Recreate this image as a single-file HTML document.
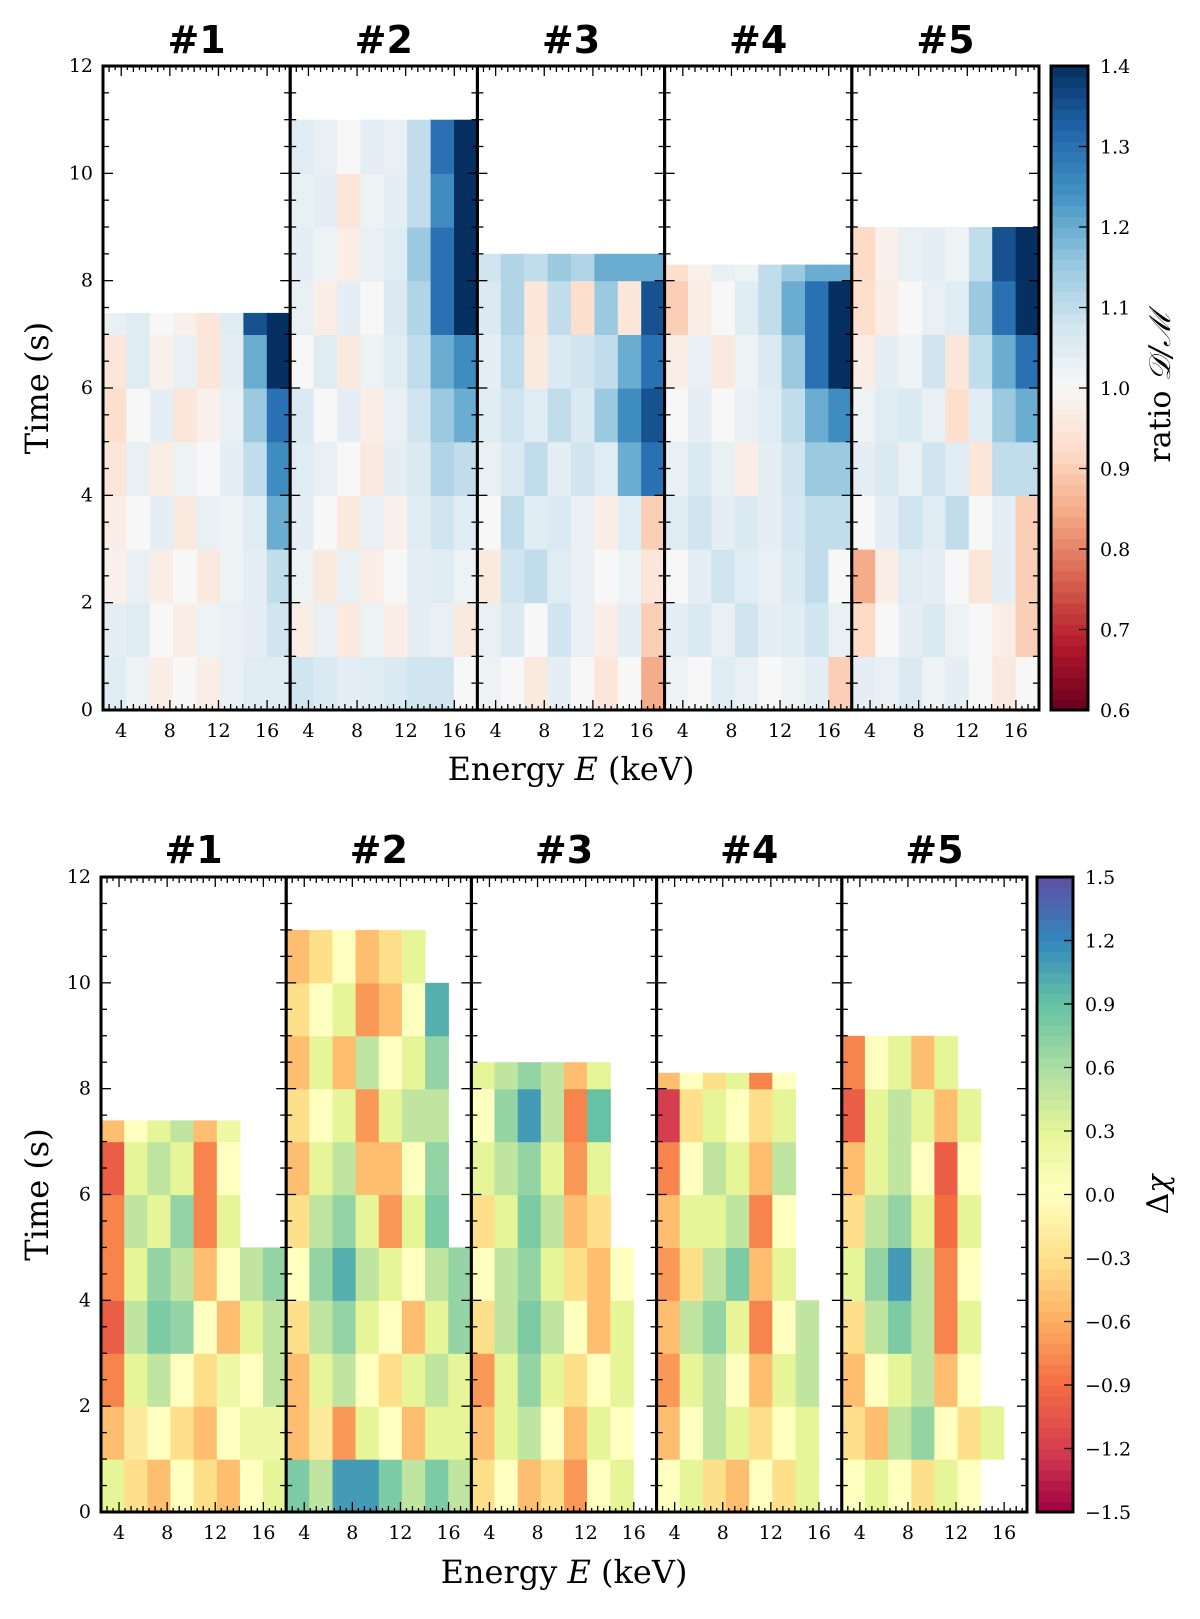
<!DOCTYPE html>
<html><head><meta charset="utf-8"><style>
html,body{margin:0;padding:0;background:#fff}
svg text{font-family:"DejaVu Serif","Liberation Serif",serif;fill:#000}
svg text.ttl{font-family:"DejaVu Sans","Liberation Sans",sans-serif;font-weight:bold}
</style></head><body>
<svg id="fig" width="1200" height="1614" viewBox="0 0 1200 1614" xmlns="http://www.w3.org/2000/svg"></svg>
<script>
// ---- data (rows from t=0 upward, 1 s per row; 8 energy bins spanning 2.5–17.9 keV) ----
const panelNames = ["#1","#2","#3","#4","#5"];
const tMax = [7.4, 11, 8.5, 8.3, 9];
const ratioTicks = [0.6,0.7,0.8,0.9,1.0,1.1,1.2,1.3,1.4];
const chiTicks = [-1.5,-1.2,-0.9,-0.6,-0.3,0.0,0.3,0.6,0.9,1.2,1.5];
const timeTicks = [0,2,4,6,8,10,12];
const energyTicks = [4,8,12,16];
const ratio1 = [
[1.05,1.02,0.97,1.0,0.97,1.03,1.05,1.05],
[1.04,1.05,1.0,0.97,1.02,1.03,1.04,1.08],
[0.98,1.03,0.97,1.0,0.96,1.02,1.04,1.1],
[0.97,1.0,1.04,0.96,1.03,1.02,1.05,1.2],
[0.95,1.03,0.97,1.02,1.0,1.04,1.1,1.25],
[0.93,1.0,1.04,0.95,0.98,1.03,1.15,1.3],
[0.95,1.05,0.98,1.03,0.95,1.04,1.2,1.4],
[1.03,1.05,1.0,0.98,0.95,1.05,1.35,1.4]];
const ratio2 = [
[1.08,1.06,1.04,1.05,1.06,1.08,1.08,1.0],
[0.97,1.03,0.96,1.02,0.97,1.04,1.03,0.96],
[1.02,0.96,1.03,0.97,1.0,1.04,1.05,1.02],
[1.04,1.0,0.96,1.03,0.98,1.05,1.08,1.05],
[1.05,1.03,1.0,0.96,1.04,1.06,1.12,1.1],
[1.06,1.0,1.04,0.97,1.03,1.08,1.15,1.2],
[1.0,1.05,0.96,1.02,1.05,1.1,1.2,1.25],
[1.03,0.97,1.04,1.0,1.06,1.12,1.3,1.4],
[1.04,1.02,0.97,1.03,1.05,1.15,1.3,1.4],
[1.03,1.04,0.95,1.02,1.04,1.1,1.25,1.4],
[1.05,1.03,1.0,1.04,1.03,1.1,1.3,1.4]];
const ratio3 = [
[1.02,1.0,0.96,1.04,1.0,0.95,1.0,0.85],
[1.03,1.06,1.0,1.08,1.03,0.97,1.04,0.9],
[0.96,1.08,1.1,1.05,1.03,1.0,1.02,0.95],
[1.0,1.1,1.05,1.06,1.03,0.97,1.05,0.9],
[1.03,1.06,1.1,1.04,1.08,1.05,1.2,1.3],
[1.05,1.08,1.05,1.1,1.06,1.15,1.25,1.35],
[1.04,1.1,0.96,1.06,1.08,1.1,1.2,1.3],
[1.06,1.12,0.95,1.1,0.93,1.15,0.95,1.35],
[1.08,1.12,1.1,1.15,1.12,1.2,1.2,1.2]];
const ratio4 = [
[1.02,1.0,1.05,1.03,1.0,1.02,1.04,0.9],
[1.04,1.06,1.03,1.08,1.04,1.05,1.08,1.03],
[1.0,1.04,1.08,1.05,1.03,1.06,1.1,1.0],
[1.05,1.08,1.04,1.06,1.04,1.07,1.1,1.1],
[1.03,1.06,1.03,0.97,1.04,1.08,1.15,1.15],
[1.0,1.04,1.0,1.03,1.05,1.1,1.2,1.25],
[0.97,1.03,0.96,1.02,1.06,1.15,1.3,1.4],
[0.9,0.97,1.0,1.05,1.1,1.2,1.3,1.4],
[0.93,0.98,1.03,1.02,1.1,1.15,1.2,1.2]];
const ratio5 = [
[1.04,1.03,1.06,1.02,1.04,1.0,0.96,1.0],
[0.92,1.0,1.04,1.06,1.02,1.0,0.97,0.9],
[0.85,0.97,1.05,1.04,1.0,0.95,1.04,0.9],
[1.0,1.04,1.08,1.05,1.1,1.0,1.04,0.9],
[1.04,1.06,1.03,1.08,1.05,0.95,1.1,1.1],
[1.02,1.05,1.06,1.03,0.93,1.05,1.15,1.2],
[0.97,1.04,1.02,1.08,0.95,1.1,1.2,1.3],
[0.93,0.97,1.0,1.03,1.05,1.15,1.3,1.4],
[0.92,0.98,1.03,1.04,1.02,1.1,1.35,1.4]];
const chi1 = [
[0.3,-0.3,-0.5,0.0,-0.3,-0.5,0.0,0.3],
[-0.5,-0.2,0.0,-0.3,-0.5,0.0,0.2,0.2],
[-0.8,0.3,0.5,0.0,-0.3,0.2,0.0,0.5],
[-1.0,0.5,0.8,0.7,0.0,-0.5,0.3,0.5],
[-0.8,0.3,0.7,0.5,-0.5,0.0,0.5,0.7],
[-0.8,0.5,0.3,0.7,-0.8,0.3,null,null],
[-1.0,0.3,0.5,0.3,-0.8,0.0,null,null],
[-0.5,0.0,0.3,0.5,-0.5,0.2,null,null]];
const chi2 = [
[0.8,0.5,1.1,1.1,0.8,0.5,0.8,0.5],
[-0.5,-0.2,-0.7,0.3,0.0,-0.5,0.3,0.3],
[-0.5,0.3,0.5,0.0,-0.3,0.3,0.5,0.3],
[-0.3,0.5,0.7,0.3,0.0,-0.5,0.3,0.7],
[0.0,0.7,1.0,0.5,0.3,0.0,0.5,0.7],
[-0.3,0.5,0.7,0.3,-0.7,0.3,0.8,null],
[-0.5,0.3,0.5,-0.5,-0.5,0.0,0.7,null],
[-0.3,0.0,0.3,-0.7,0.3,0.5,0.5,null],
[-0.5,0.3,-0.5,0.5,0.0,0.3,0.7,null],
[-0.3,0.0,0.3,-0.7,-0.5,0.0,1.0,null],
[-0.5,-0.3,0.0,-0.5,-0.3,0.3,null,null]];
const chi3 = [
[-0.3,0.0,-0.5,-0.3,-0.7,0.0,0.3,null],
[-0.5,0.3,0.5,0.0,-0.5,0.3,0.0,null],
[-0.7,0.3,0.7,0.3,-0.3,0.0,0.3,null],
[-0.3,0.5,0.8,0.5,0.0,-0.5,0.3,null],
[0.0,0.5,0.7,0.3,-0.3,-0.5,0.0,null],
[-0.3,0.3,0.8,0.5,-0.5,-0.3,null,null],
[0.3,0.5,0.7,0.3,-0.7,0.3,null,null],
[0.0,0.7,1.1,0.5,-0.8,0.9,null,null],
[0.3,0.5,0.7,0.5,-0.5,0.3,null,null]];
const chi4 = [
[0.0,0.3,-0.3,-0.5,0.0,-0.3,0.3,null],
[-0.5,0.0,0.5,0.3,-0.3,0.0,0.3,null],
[-0.7,0.3,0.5,0.0,-0.5,0.3,0.5,null],
[-0.5,0.5,0.7,0.3,-0.8,0.0,0.5,null],
[-0.7,-0.3,0.5,0.8,-0.5,0.3,null,null],
[-0.5,0.3,0.3,0.5,-0.8,0.0,null,null],
[-0.8,0.0,0.5,0.3,-0.5,0.5,null,null],
[-1.2,-0.3,0.3,0.0,-0.3,0.3,null,null],
[-0.5,0.0,-0.3,0.3,-0.8,0.0,null,null]];
const chi5 = [
[0.0,0.3,0.0,-0.3,0.3,0.0,null,null],
[-0.3,-0.5,0.5,0.7,0.0,-0.3,0.3,null],
[-0.5,0.0,0.3,0.5,-0.5,0.0,null,null],
[-0.3,0.5,0.8,0.5,-0.8,0.3,null,null],
[0.3,0.7,1.1,0.5,-0.8,0.0,null,null],
[-0.3,0.5,0.7,0.3,-0.9,0.3,null,null],
[-0.5,0.3,0.5,0.0,-1.0,0.0,null,null],
[-1.0,0.3,0.5,0.3,-0.5,0.3,null,null],
[-0.8,0.0,0.3,-0.5,0.3,null,null,null]];

const ratioData = [ratio1,ratio2,ratio3,ratio4,ratio5];
const chiData = [chi1,chi2,chi3,chi4,chi5];

const E0=2.5, E1=17.9, T1=12;
const NS="http://www.w3.org/2000/svg";
const svg=document.getElementById('fig');
function mk(tag,attrs,parent){const e=document.createElementNS(NS,tag);for(const k in attrs)e.setAttribute(k,attrs[k]);(parent||svg).appendChild(e);return e;}

const RdBu=["#67001f","#b2182b","#d6604d","#f4a582","#fddbc7","#f7f7f7","#d1e5f0","#92c5de","#4393c3","#2166ac","#053061"];
const Spec=["#9e0142","#d53e4f","#f46d43","#fdae61","#fee08b","#ffffbf","#e6f598","#abdda4","#66c2a5","#3288bd","#5e4fa2"];
function hex(h){return [1,3,5].map(i=>parseInt(h.substr(i,2),16));}
function cmap(stops,f){f=Math.max(0,Math.min(1,f));const p=f*(stops.length-1);const i=Math.min(stops.length-2,Math.floor(p));const t=p-i;const a=hex(stops[i]),b=hex(stops[i+1]);return "rgb("+a.map((v,k)=>Math.round(v+(b[k]-v)*t)).join(",")+")";}

function chart(cfg){
  const {left,top,pw,ph,data,stops,vmin,vmax,ticks,cbx,cbw,label,labelY,titleY,energyY,prefix,fmt}=cfg;
  const y=t=>top+ph-(t/T1)*ph;
  for(let p=0;p<5;p++){
    const px=left+p*pw;
    const x=e=>px+(e-E0)/(E1-E0)*pw;
    const g=mk('g',{});
    
    
    const rows=data[p], nc=rows[0].length, de=(E1-E0)/nc;
    rows.forEach((row,r)=>{
      const t0=r, t1=Math.min(r+1,tMax[p]);
      row.forEach((v,c)=>{
        if(v===null)return;
        const x0=x(E0+c*de), x1=x(E0+(c+1)*de);
        const rc=mk('rect',{x:x0.toFixed(1),y:y(t1).toFixed(1),width:(x1-x0+0.6).toFixed(1),height:(y(t0)-y(t1)+0.6).toFixed(1),fill:cmap(stops,(v-vmin)/(vmax-vmin))},g);
        
        
      });
    });
    for(let e=3;e<=17.5;e+=0.5){
      const L=(e%4===0)?10:(e%1===0?6:4);
      mk('line',{x1:x(e),x2:x(e),y1:top+ph,y2:top+ph-L,stroke:'#000','stroke-width':1.3});
      mk('line',{x1:x(e),x2:x(e),y1:top,y2:top+L,stroke:'#000','stroke-width':1.3});
    }
    for(let t=0.5;t<T1;t+=0.5){
      const L=(t%2===0)?10:6;
      mk('line',{x1:px,x2:px+L,y1:y(t),y2:y(t),stroke:'#000','stroke-width':1.3});
      mk('line',{x1:px+pw,x2:px+pw-L,y1:y(t),y2:y(t),stroke:'#000','stroke-width':1.3});
    }
    energyTicks.forEach(e=>{const tx=mk('text',{x:x(e),y:top+ph+27,'text-anchor':'middle','font-size':19});tx.textContent=e;
      });
    const ti=mk('text',{x:px+pw/2,y:titleY,'text-anchor':'middle','font-size':38,'class':'ttl'});
    ti.textContent=panelNames[p];
    
    mk('rect',{x:px,y:top,width:pw,height:ph,fill:'none',stroke:'#000','stroke-width':3});
  }
  timeTicks.forEach(t=>{const tx=mk('text',{x:left-10,y:y(t)+6,'text-anchor':'end','font-size':19});tx.textContent=t;
    });
  const yl=mk('text',{x:0,y:0,'text-anchor':'middle','font-size':32,transform:`translate(48,${top+ph/2}) rotate(-90)`});
  yl.textContent='Time (s)';
  const xl=mk('text',{x:left+pw*2.5,y:energyY,'text-anchor':'middle','font-size':32});
  xl.innerHTML='Energy <tspan font-style="italic">E</tspan> (keV)';
  
  const N=60;
  for(let i=0;i<N;i++){
    const r=mk('rect',{x:cbx,y:top+ph-(i+1)*ph/N,width:cbw,height:ph/N+0.7,fill:cmap(stops,(i+0.5)/N)});
    
  }
  mk('rect',{x:cbx,y:top,width:cbw,height:ph,fill:'none',stroke:'#000','stroke-width':3});
  ticks.forEach(v=>{const yy=top+ph-(v-vmin)/(vmax-vmin)*ph;
    mk('line',{x1:cbx+cbw,x2:cbx+cbw-9,y1:yy,y2:yy,stroke:'#000','stroke-width':1.3});
    const tx=mk('text',{x:cbx+cbw+12,y:yy+7,'font-size':19});tx.textContent=fmt(v);
    });
  const cl=mk('text',{x:0,y:0,'text-anchor':'middle','font-size':30,transform:`translate(${labelY},${top+ph/2}) rotate(-90)`});
  cl.innerHTML=label;
}
chart({left:103,top:66,pw:187.2,ph:644,data:ratioData,stops:RdBu,vmin:0.6,vmax:1.4,ticks:ratioTicks,cbx:1051,cbw:37,
  label:'ratio <tspan font-style="italic">𝒟/ℳ</tspan>',labelY:1170,titleY:53,energyY:780,prefix:'ratio',fmt:v=>v.toFixed(1)});
chart({left:101,top:877,pw:185.2,ph:635,data:chiData,stops:Spec,vmin:-1.5,vmax:1.5,ticks:chiTicks,cbx:1037,cbw:36,
  label:'Δ<tspan font-style="italic">χ</tspan>',labelY:1168,titleY:863,energyY:1583,prefix:'chi',fmt:v=>(v<0?'\u2212':'')+Math.abs(v).toFixed(1)});
</script>
</body></html>
